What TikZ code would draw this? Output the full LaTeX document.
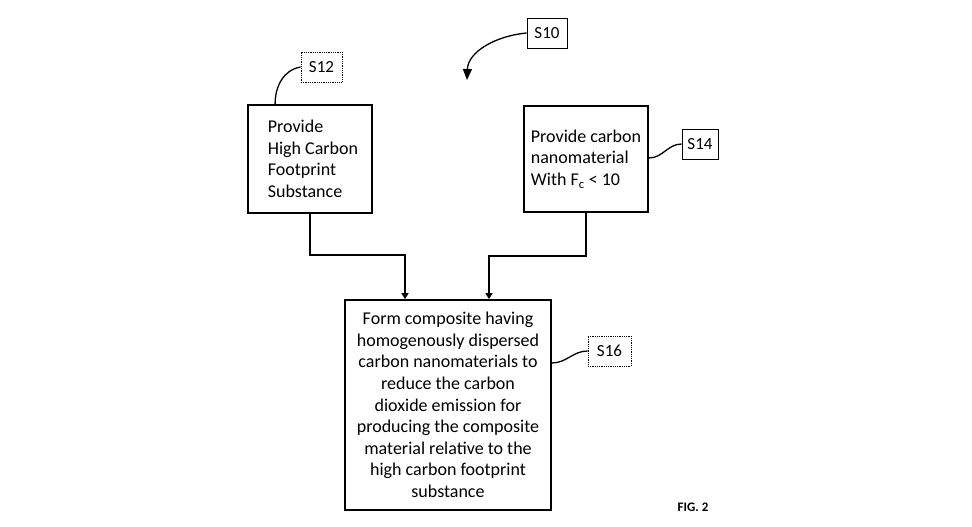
\documentclass[tikz,border=0pt]{standalone}
\usepackage{fontspec}
\setmainfont{Carlito}
\usetikzlibrary{arrows.meta}
\tikzset{
  stepbox/.style={draw, line width=1.8pt, align=left, font=\fontsize{18}{21.6}\selectfont},
  tagbox/.style={draw, line width=0.8pt, minimum height=30pt, inner xsep=4pt, font=\fontsize{17}{19}\selectfont},
  flow/.style={line width=1.8pt, -{Triangle[length=6pt,width=7pt]}},
  lead/.style={line width=1.3pt}
}

\begin{document}
\begin{tikzpicture}[x=1pt,y=-1pt]
		%%%%% START %%%%%
		\useasboundingbox (0, 0) rectangle (972, 527);
		
		\node[stepbox, minimum width=124pt, minimum height=108pt] (hcf) at (310, 159) {\hspace*{6pt}Provide\\\hspace*{6pt}High Carbon\\\hspace*{6pt}Footprint\\\hspace*{6pt}Substance};
		\node[stepbox, minimum width=124pt, minimum height=106pt] (cnm) at (586, 159) {Provide carbon\\nanomaterial\\With F$_{\mathrm{c}}$ < 10};
		\node[stepbox, align=center, minimum width=206pt, minimum height=210pt] (form) at (448, 405) {Form composite having\\homogenously dispersed\\carbon nanomaterials to\\reduce the carbon\\dioxide emission for\\producing the composite\\material relative to the\\high carbon footprint\\substance};
		
		\node[tagbox, minimum width=40pt] (s10) at (547, 33) {S10};
		\node[tagbox, densely dotted, minimum width=41pt] (s12) at (321.5, 67) {S12};
		\node[tagbox, minimum width=36pt] (s14) at (700, 144) {S14};
		\node[tagbox, densely dotted, minimum width=43pt] (s16) at (609.5, 351) {S16};
		
		\coordinate (tip) at (467, 80);
		\draw[lead, -{Triangle[length=11pt,width=9pt]}] (s10.west) .. controls (495, 36) and (468, 52) .. (tip);
		\draw[lead] (s12.west) to[out=190, in=90] ([xshift=28pt]hcf.north west);
		\draw[lead] ([yshift=1pt]cnm.east) to[out=0, in=180] (s14.west);
		\draw[lead] ([yshift=42pt]form.east) to[out=0, in=180] (s16.west);
		
		\draw[flow] (hcf.south) |- (405, 255) -- ([xshift=-43pt]form.north);
		\draw[flow] (cnm.south) |- (489, 256) -- ([xshift=41pt]form.north);
		
		\node[font=\fontsize{13}{15}\selectfont\bfseries] (fig) at (693, 507) {FIG. 2};
		%%%%% END %%%%%
	\end{tikzpicture}
\end{document}
